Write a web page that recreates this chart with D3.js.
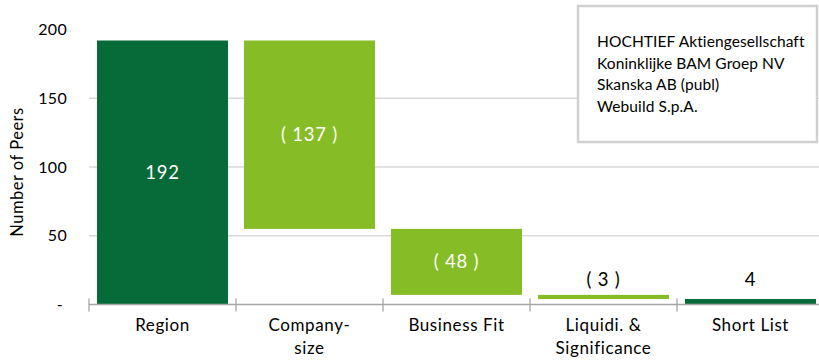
<!DOCTYPE html>
<html>
<head>
<meta charset="utf-8">
<script src="https://cdn.jsdelivr.net/npm/d3@7"></script>
<style>
  body { margin: 0; background: #fff; }
  svg { font-family: Lato, "Open Sans", sans-serif; }
</style>
</head>
<body>
<script>
/* peer selection waterfall */
var categories = ["Region", "Company-size", "Business Fit", "Liquidi. & Significance", "Short List"];
var labelLines = [["Region"], ["Company-", "size"], ["Business Fit"], ["Liquidi. &", "Significance"], ["Short List"]];
var values = [192, -137, -48, -3, 4];
var kinds = ["total", "step", "step", "step", "total"];
var yTicks = [0, 50, 100, 150, 200];
var peers = ["HOCHTIEF Aktiengesellschaft", "Koninklijke BAM Groep NV", "Skanska AB (publ)", "Webuild S.p.A."];

var dark = "#066b38", light = "#86bc25";

var svg = d3.select("body").append("svg")
            .attr("width", 819)
            .attr("height", 360);

var x = d3.scaleBand().domain(categories).range([89, 824]).paddingInner(0.109).paddingOuter(0.0545);
var y = d3.scaleLinear().domain([0, 200]).range([304.5, 29.5]);

// running totals for the waterfall
var run = 0;
var bars = values.map(function(v, i) {
  var lo, hi;
  if (kinds[i] == "total") { lo = 0; hi = v; run = v; }
  else { hi = run; lo = run + v; run = lo; }
  return { cat: categories[i], v: v, lo: lo, hi: hi, kind: kinds[i] };
});

// gridlines
svg.selectAll("line.grid")
   .data(yTicks.filter(function(d) { return d > 0 && d < 200; }))
   .enter().append("line")
   .attr("x1", 89).attr("x2", 819)
   .attr("y1", function(d) { return y(d); })
   .attr("y2", function(d) { return y(d); })
   .attr("stroke", "#d9d9d9").attr("stroke-width", 1.3);

// y labels
svg.selectAll("text.ytick")
   .data(yTicks).enter().append("text")
   .attr("x", function(d) { return d == 0 ? 63 : 67; })
   .attr("y", function(d) { return y(d); })
   .attr("dy", "0.35em")
   .attr("text-anchor", "end")
   .attr("font-size", 16)
   .attr("letter-spacing", 0.3)
   .attr("fill", "#000")
   .text(function(d) { return d == 0 ? "-" : d; });

svg.append("text")
   .attr("transform", "translate(23,172) rotate(-90)")
   .attr("text-anchor", "middle")
   .attr("font-size", 16.5)
   .attr("letter-spacing", 0.5)
   .text("Number of Peers");

// bars
svg.selectAll("rect.bar")
   .data(bars).enter().append("rect")
   .attr("x", function(d) { return x(d.cat); })
   .attr("width", x.bandwidth())
   .attr("y", function(d) { return y(d.hi); })
   .attr("height", function(d) { return Math.max(2, y(d.lo) - y(d.hi)); })
   .attr("fill", function(d) { return d.kind == "total" ? dark : light; });

// bar labels - inside when the bar is tall, above otherwise
svg.selectAll("text.val")
   .data(bars).enter().append("text")
   .attr("x", function(d) { return x(d.cat) + x.bandwidth() / 2; })
   .attr("y", function(d) {
     var h = y(d.lo) - y(d.hi);
     if (h > 30) return (y(d.lo) + y(d.hi)) / 2;
     return (d.kind == "total" ? y(d.hi) : y(d.lo)) - 19;
   })
   .attr("dy", "0.35em")
   .attr("text-anchor", "middle")
   .attr("font-size", 18.5)
   .attr("letter-spacing", 0.8)
   .attr("fill", function(d) { return (y(d.lo) - y(d.hi)) > 30 ? "#fff" : "#000"; })
   .text(function(d) { return d.v < 0 ? "( " + (-d.v) + " )" : d.v; });

// x axis
svg.append("line")
   .attr("x1", 89).attr("x2", 819)
   .attr("y1", y(0)).attr("y2", y(0))
   .attr("stroke", "#a6a6a6").attr("stroke-width", 1.3);

var step = x.step();
svg.selectAll("line.xtick")
   .data(categories).enter().append("line")
   .attr("x1", function(d) { return x(d) - (step - x.bandwidth()) / 2; })
   .attr("x2", function(d) { return x(d) - (step - x.bandwidth()) / 2; })
   .attr("y1", y(0) - 6).attr("y2", y(0) + 7)
   .attr("stroke", "#a6a6a6").attr("stroke-width", 1.3);

var cl = svg.selectAll("text.cat")
   .data(categories).enter().append("text")
   .attr("text-anchor", "middle")
   .attr("font-size", 17)
   .attr("letter-spacing", 0.6)
   .attr("fill", "#000");
cl.selectAll("tspan")
  .data(function(d, i) { return labelLines[i].map(function(t) { return { t: t, c: d }; }); })
  .enter().append("tspan")
  .attr("x", function(d) { return x(d.c) + x.bandwidth() / 2; })
  .attr("y", function(d, j) { return 331 + j * 23; })
  .text(function(d) { return d.t; });

// peer box
svg.append("rect")
   .attr("x", 578).attr("y", 6)
   .attr("width", 239).attr("height", 136)
   .attr("fill", "#fff")
   .attr("stroke", "#d0d0d0").attr("stroke-width", 2.5);

svg.selectAll("text.peer")
   .data(peers).enter().append("text")
   .attr("x", 597)
   .attr("y", function(d, i) { return 42 + i * 21.5; })
   .attr("dy", "0.35em")
   .attr("font-size", 15.5)
   .attr("letter-spacing", 0.1)
   .text(function(d) { return d; });
</script>
</body>
</html>
